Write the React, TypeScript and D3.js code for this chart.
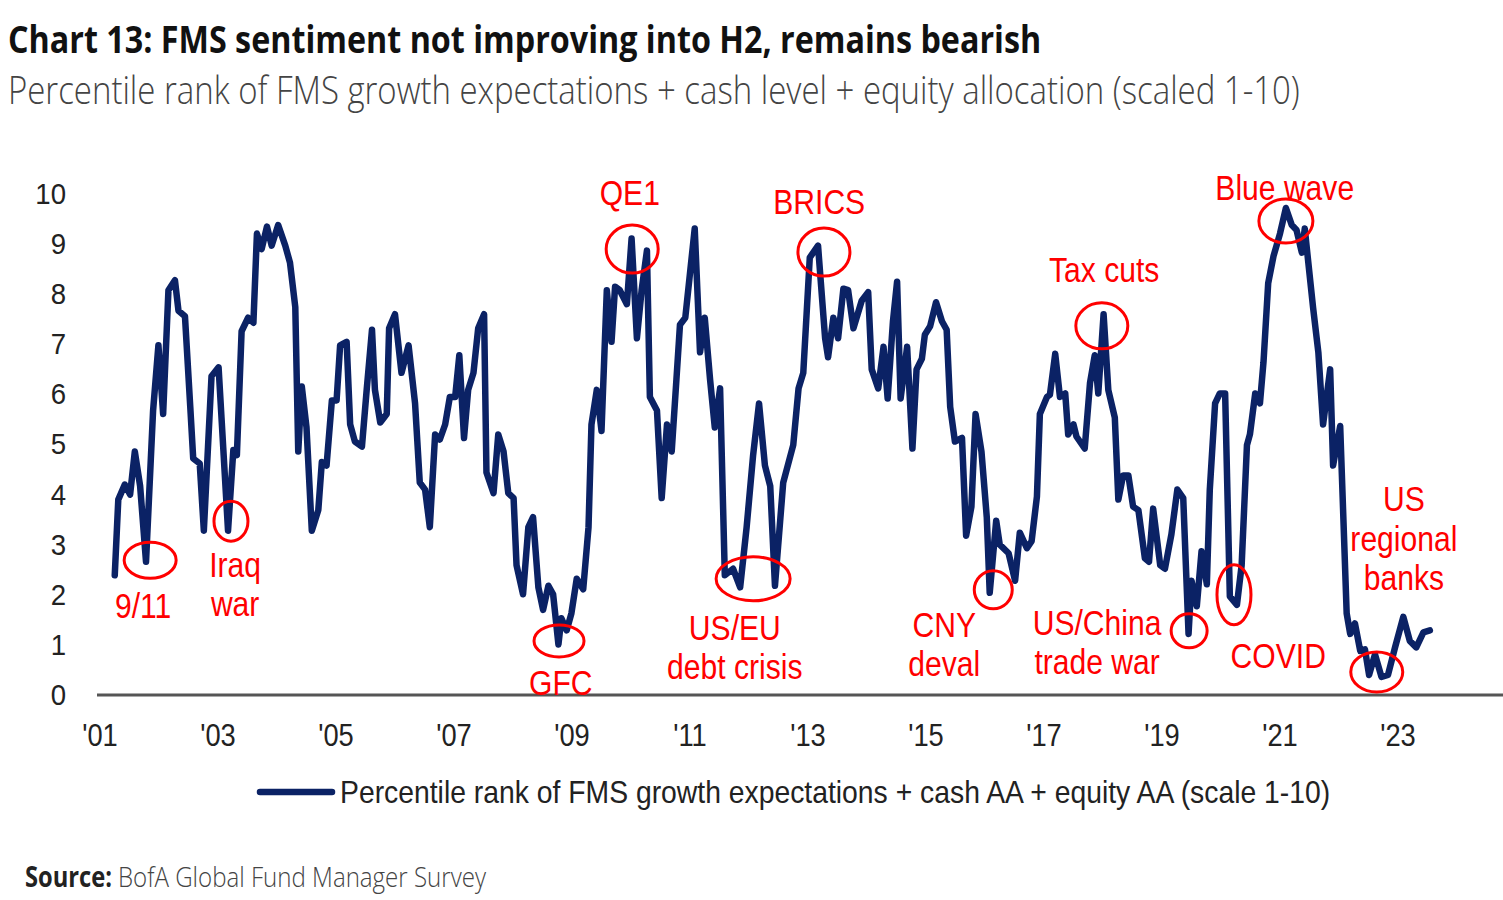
import React, { useLayoutEffect, useRef, useState } from 'react';
import * as d3 from 'd3';

// Survey dates (decimal years) and sentiment readings (scale 0-10)
const dates: number[] = [
  2001.25, 2001.31, 2001.42, 2001.51, 2001.59, 2001.68, 2001.78, 2001.90, 2001.99, 2002.07,
  2002.16, 2002.27, 2002.33, 2002.44, 2002.53, 2002.58, 2002.69, 2002.76, 2002.89, 2003.01,
  2003.17, 2003.26, 2003.32, 2003.40, 2003.51, 2003.60, 2003.66, 2003.74, 2003.83, 2003.91,
  2004.02, 2004.14, 2004.22, 2004.31, 2004.36, 2004.42, 2004.50, 2004.59, 2004.70, 2004.76,
  2004.84, 2004.93, 2005.01, 2005.07, 2005.18, 2005.24, 2005.32, 2005.44, 2005.52, 2005.61,
  2005.66, 2005.75, 2005.86, 2005.90, 2006.00, 2006.11, 2006.23, 2006.34, 2006.42, 2006.51,
  2006.59, 2006.68, 2006.76, 2006.85, 2006.93, 2007.02, 2007.09, 2007.17, 2007.24, 2007.33,
  2007.41, 2007.51, 2007.55, 2007.67, 2007.75, 2007.84, 2007.92, 2008.01, 2008.06, 2008.17,
  2008.26, 2008.34, 2008.43, 2008.51, 2008.60, 2008.68, 2008.77, 2008.82, 2008.91, 2008.99,
  2009.08, 2009.19, 2009.28, 2009.33, 2009.42, 2009.50, 2009.59, 2009.67, 2009.73, 2009.81,
  2009.93, 2010.01, 2010.10, 2010.18, 2010.27, 2010.32, 2010.44, 2010.52, 2010.61, 2010.69,
  2010.77, 2010.83, 2010.92, 2011.08, 2011.17, 2011.25, 2011.34, 2011.42, 2011.51, 2011.59,
  2011.73, 2011.85, 2011.96, 2012.07, 2012.17, 2012.27, 2012.36, 2012.44, 2012.58, 2012.75,
  2012.84, 2012.92, 2013.03, 2013.17, 2013.29, 2013.34, 2013.43, 2013.51, 2013.60, 2013.68,
  2013.77, 2013.91, 2014.02, 2014.08, 2014.19, 2014.28, 2014.35, 2014.44, 2014.51, 2014.57,
  2014.68, 2014.77, 2014.84, 2014.93, 2014.98, 2015.07, 2015.17, 2015.27, 2015.35, 2015.41,
  2015.49, 2015.61, 2015.68, 2015.77, 2015.84, 2015.94, 2016.03, 2016.08, 2016.19, 2016.25,
  2016.40, 2016.51, 2016.59, 2016.71, 2016.79, 2016.88, 2016.93, 2017.05, 2017.10, 2017.19,
  2017.27, 2017.36, 2017.41, 2017.50, 2017.55, 2017.69, 2017.78, 2017.86, 2017.92, 2018.01,
  2018.09, 2018.20, 2018.26, 2018.34, 2018.43, 2018.51, 2018.60, 2018.71, 2018.78, 2018.85,
  2018.97, 2019.05, 2019.16, 2019.26, 2019.36, 2019.45, 2019.50, 2019.59, 2019.67, 2019.76,
  2019.81, 2019.90, 2019.98, 2020.07, 2020.15, 2020.27, 2020.35, 2020.44, 2020.49, 2020.58,
  2020.66, 2020.72, 2020.80, 2020.89, 2021.00, 2021.10, 2021.20, 2021.28, 2021.37, 2021.42,
  2021.48, 2021.56, 2021.65, 2021.73, 2021.85, 2021.90, 2022.02, 2022.13, 2022.19, 2022.27,
  2022.36, 2022.44, 2022.51, 2022.61, 2022.72, 2022.83, 2022.95, 2023.09, 2023.20, 2023.31,
  2023.43, 2023.54,
];

const values: number[] = [
  2.37, 3.88, 4.18, 3.98, 4.84, 4.15, 2.64, 5.66, 6.96, 5.59,
  8.06, 8.26, 7.65, 7.54, 5.73, 4.70, 4.60, 3.26, 6.34, 6.52,
  3.26, 4.87, 4.77, 7.24, 7.51, 7.41, 9.19, 8.88, 9.33, 8.95,
  9.36, 8.95, 8.61, 7.72, 4.84, 6.14, 5.32, 3.26, 3.67, 4.63,
  4.56, 5.86, 5.86, 6.96, 7.03, 5.38, 5.04, 4.94, 6.07, 7.27,
  6.07, 5.42, 5.59, 7.30, 7.58, 6.41, 6.96, 5.80, 4.22, 4.08,
  3.33, 5.18, 5.08, 5.38, 5.93, 5.93, 6.76, 5.11, 6.07, 6.41,
  7.30, 7.58, 4.42, 4.01, 5.18, 4.84, 4.01, 3.91, 2.57, 1.99,
  3.33, 3.53, 2.13, 1.68, 2.16, 1.99, 0.99, 1.51, 1.27, 1.61,
  2.30, 2.09, 3.33, 5.38, 6.07, 5.25, 8.06, 7.03, 8.13, 8.06,
  7.78, 9.09, 7.10, 8.06, 8.85, 5.93, 5.66, 3.91, 5.38, 4.84,
  6.28, 7.37, 7.51, 9.29, 6.82, 7.51, 6.28, 5.32, 6.10, 2.37,
  2.50, 2.13, 3.33, 4.77, 5.80, 4.56, 4.15, 2.16, 4.22, 4.97,
  6.10, 6.41, 8.71, 8.95, 7.10, 6.72, 7.51, 7.10, 8.09, 8.06,
  7.30, 7.85, 8.02, 6.48, 6.10, 6.93, 5.90, 7.44, 8.23, 5.90,
  6.93, 4.90, 6.48, 6.69, 7.17, 7.34, 7.82, 7.44, 7.27, 5.73,
  5.04, 5.11, 3.16, 3.74, 5.59, 4.84, 3.53, 2.02, 3.46, 2.98,
  2.81, 2.26, 3.22, 2.91, 3.05, 3.94, 5.59, 5.93, 5.97, 6.79,
  5.93, 6.00, 5.18, 5.38, 5.14, 4.90, 6.21, 6.76, 6.00, 7.58,
  6.07, 5.52, 3.88, 4.36, 4.36, 3.74, 3.67, 2.71, 2.64, 3.70,
  2.57, 2.50, 3.19, 4.08, 3.91, 1.20, 2.26, 1.75, 2.85, 2.19,
  4.08, 5.80, 6.00, 6.00, 1.95, 1.78, 2.57, 4.97, 5.18, 6.00,
  5.80, 6.62, 8.20, 8.74, 9.19, 9.70, 9.36, 9.26, 8.81, 9.29,
  8.61, 7.72, 6.82, 5.38, 6.48, 4.56, 5.35, 1.61, 1.20, 1.41,
  0.86, 0.89, 0.38, 0.79, 0.34, 0.38, 0.93, 1.54, 1.06, 0.93,
  1.23, 1.27,
];

const yTicks: number[] = [0, 1, 2, 3, 4, 5, 6, 7, 8, 9, 10];
const xTickYears: number[] = [2001, 2003, 2005, 2007, 2009, 2011, 2013, 2015, 2017, 2019, 2021, 2023];
const xTickLabels: string[] = ["'01", "'03", "'05", "'07", "'09", "'11", "'13", "'15", "'17", "'19", "'21", "'23"];

// Event annotations: circled point (year, value) and label anchor (year, value)
const eventLabels: string[][] = [
  ['9/11'], ['Iraq', 'war'], ['GFC'], ['QE1'], ['US/EU', 'debt crisis'], ['BRICS'],
  ['CNY', 'deval'], ['Tax cuts'], ['US/China', 'trade war'], ['COVID'], ['Blue wave'],
  ['US', 'regional', 'banks'],
];
const eventYear: number[] = [2001.85, 2003.22, 2008.78, 2010.02, 2012.07, 2013.27, 2016.14, 2017.98, 2019.46, 2020.22, 2021.10, 2022.64];
const eventValue: number[] = [2.67, 3.45, 1.06, 8.88, 2.30, 8.82, 2.08, 7.35, 1.26, 1.98, 9.44, 0.44];
const labelYear: number[] = [2001.73, 2003.29, 2008.81, 2009.98, 2011.76, 2013.19, 2015.31, 2018.02, 2017.90, 2020.97, 2021.08, 2023.10];
const labelValue: number[] = [1.52, 2.34, -0.02, 9.76, 1.08, 9.58, 1.14, 8.22, 1.18, 0.52, 9.86, 3.65];

const TITLE = 'Chart 13: FMS sentiment not improving into H2, remains bearish';
const SUBTITLE = 'Percentile rank of FMS growth expectations + cash level + equity allocation (scaled 1-10)';
const LEGEND = 'Percentile rank of FMS growth expectations + cash AA + equity AA (scale 1-10)';

// Text squeezed horizontally to a target width by measuring it at runtime
function FitText(props: {
  x: number;
  y: number;
  width: number;
  fontSize: number;
  fontFamily: string;
  fontWeight?: number;
  fill: string;
  children: string;
}) {
  const ref = useRef<SVGTextElement>(null);
  const [sx, setSx] = useState(0.75);
  useLayoutEffect(() => {
    const el = ref.current;
    if (!el) return;
    const len = el.getComputedTextLength();
    if (len > 0) setSx(props.width / len);
  }, [props.width, props.children]);
  return (
    <g transform={`translate(${props.x},${props.y}) scale(${sx},1)`}>
      <text
        ref={ref}
        x={0}
        y={0}
        fontFamily={props.fontFamily}
        fontWeight={props.fontWeight ?? 400}
        fontSize={props.fontSize}
        fill={props.fill}
      >
        {props.children}
      </text>
    </g>
  );
}

export default function App() {
  const W = 1503;
  const H = 900;
  const x = d3.scaleLinear().domain([2001, 2023]).range([100, 1398]);
  const y = d3.scaleLinear().domain([0, 10]).range([694, 193]);

  const pts = dates.map((d, i) => [d, values[i]] as [number, number]);
  const line = d3
    .line<[number, number]>()
    .x((d) => x(d[0]))
    .y((d) => y(d[1]));

  const navy = '#0b2265';
  const red = '#ff0000';
  const chartFont = '"Liberation Sans", Arial, sans-serif';
  const headFont = '"Open Sans", "Noto Sans", sans-serif';

  // ellipse radii (px) for the annotation rings
  const ringRx = [26, 17, 25, 26, 37, 26, 19, 26, 18, 17, 27, 26];
  const ringRy = [18, 20, 16, 24, 22, 24, 19, 23, 17, 30, 22, 20];

  return (
    <svg
      width={W}
      height={H}
      style={{ position: 'absolute', left: 0, top: 0, background: '#fff' }}
    >
      <rect x={0} y={0} width={W} height={H} fill="#fff" />

      {/* Title + subtitle */}
      <FitText x={8} y={53} width={1033} fontSize={38} fontFamily={headFont} fontWeight={700} fill="#111">
        {TITLE}
      </FitText>
      <FitText x={8} y={104} width={1292} fontSize={39} fontFamily={headFont} fontWeight={300} fill="#444">
        {SUBTITLE}
      </FitText>

      {/* Y tick labels */}
      {yTicks.map((t) => (
        <text
          key={'y' + t}
          x={66}
          y={y(t) + 11}
          textAnchor="end"
          fontFamily={chartFont}
          fontSize={30}
          fill="#222"
          transform={`translate(66,0) scale(0.92,1) translate(-66,0)`}
        >
          {t}
        </text>
      ))}

      {/* X axis line */}
      <line x1={97} x2={1503} y1={y(0) + 1} y2={y(0) + 1} stroke="#555" strokeWidth={3} />

      {/* X tick labels */}
      {xTickYears.map((yr, i) => (
        <text
          key={'x' + yr}
          x={x(yr)}
          y={746}
          textAnchor="middle"
          fontFamily={chartFont}
          fontSize={31}
          fill="#222"
          transform={`translate(${x(yr)},0) scale(0.88,1) translate(${-x(yr)},0)`}
        >
          {xTickLabels[i]}
        </text>
      ))}

      {/* Series line */}
      <path
        d={line(pts) || ''}
        fill="none"
        stroke={navy}
        strokeWidth={6.5}
        strokeLinejoin="round"
        strokeLinecap="round"
      />

      {/* Annotations */}
      {eventLabels.map((lines, i) => {
        const lx = x(labelYear[i]);
        const ly = y(labelValue[i]);
        return (
          <g key={'ev' + i}>
            <ellipse
              cx={x(eventYear[i])}
              cy={y(eventValue[i])}
              rx={ringRx[i]}
              ry={ringRy[i]}
              fill="none"
              stroke={red}
              strokeWidth={3}
            />
            <g transform={`translate(${lx},${ly}) scale(0.86,1)`}>
              {lines.map((s, j) => (
                <text
                  key={j}
                  x={0}
                  y={j * 39.5}
                  textAnchor="middle"
                  fontFamily={chartFont}
                  fontSize={35}
                  fill={red}
                >
                  {s}
                </text>
              ))}
            </g>
          </g>
        );
      })}

      {/* Legend */}
      <line x1={260} x2={332} y1={792} y2={792} stroke={navy} strokeWidth={6.5} strokeLinecap="round" />
      <FitText x={340} y={803} width={990} fontSize={31} fontFamily={chartFont} fill="#222">
        {LEGEND}
      </FitText>

      {/* Source */}
      <FitText x={25} y={887} width={87} fontSize={28} fontFamily={headFont} fontWeight={700} fill="#222">
        Source:
      </FitText>
      <FitText x={118} y={887} width={368} fontSize={28} fontFamily={headFont} fontWeight={300} fill="#444">
        BofA Global Fund Manager Survey
      </FitText>
    </svg>
  );
}
